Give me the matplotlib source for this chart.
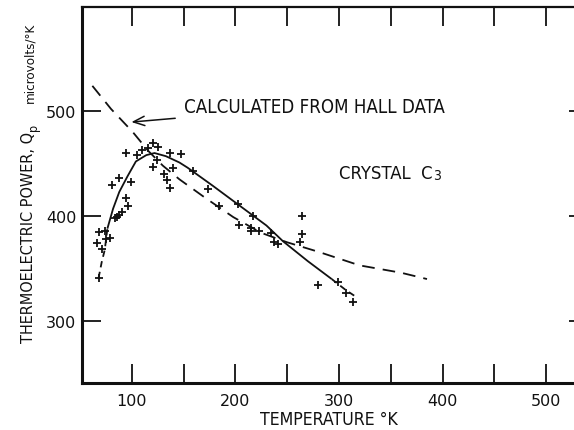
import matplotlib
matplotlib.use("Agg")
import matplotlib.pyplot as plt

# Measured thermoelectric power, crystal C3 (temperature in K, Q in microvolts/K)
meas_T = [68, 66, 71, 68, 74, 75, 79,
          84, 86, 88, 91, 96, 94, 81, 88, 99,
          94, 105, 110, 116, 121, 125, 124, 121, 137, 148, 140, 131, 134, 137,
          159, 174, 184, 203, 217, 204, 215, 215, 223, 234, 237, 241,
          262, 264, 264, 280, 299, 307, 314]
meas_Q = [341, 374, 369, 385, 386, 378, 379,
          398, 399, 401, 404, 410, 417, 430, 436, 432,
          460, 458, 463, 465, 470, 466, 453, 447, 460, 459, 446, 440, 434, 427,
          443, 426, 410, 411, 400, 391, 389, 386, 386, 384, 375, 373,
          375, 383, 400, 334, 337, 327, 318]

# Smooth curve through the measurements (solid), with dashed extrapolations
fit_T = [76.5, 82, 88, 96, 104, 114, 122, 133, 146, 154, 178, 204, 230, 246, 270, 293]
fit_Q = [388, 407, 423, 438, 452, 458, 460, 457, 451, 446, 429, 410, 391, 376, 357, 340]
fit_low_T = [68, 71, 74, 76.5]
fit_low_Q = [341, 356, 368, 388]
fit_high_T = [293, 306, 318]
fit_high_Q = [340, 330, 322]

# Thermoelectric power calculated from Hall data
calc_T = [62, 80, 101, 116, 130, 146, 170, 198, 225, 250, 280, 320, 360, 385]
calc_Q = [524, 502, 480, 462, 448, 435, 418, 399, 384, 375, 366, 353, 346, 340]

x_major = [100, 200, 300, 400, 500]
x_all = [100, 150, 200, 250, 300, 350, 400, 450, 500]
y_major = [300, 400, 500]

label_font = dict(family="DejaVu Sans", stretch="condensed")
ink = "#111111"

W, H = 574, 431
fig = plt.figure(figsize=(W / 100, H / 100), dpi=100)
fig.patch.set_facecolor("white")
fig.patch.set_edgecolor("none")
ax = fig.add_axes([0.14286, 0.10905, 0.8808, 0.8722])
ax.set_xlim(52, 540)
ax.set_ylim(241, 599)

ax.plot(calc_T, calc_Q, color=ink, lw=1.3, dashes=(7, 4.5))
ax.plot(fit_T, fit_Q, color=ink, lw=1.3, solid_capstyle="butt")
ax.plot(fit_low_T, fit_low_Q, color=ink, lw=1.3, dashes=(3.5, 2.5))
ax.plot(fit_high_T, fit_high_Q, color=ink, lw=1.3, dashes=(3.5, 2.5))
ax.plot(meas_T, meas_Q, linestyle="none", marker="+", markersize=6,
        markeredgewidth=1.3, color=ink)

ax.annotate("CALCULATED FROM HALL DATA", xy=(99.7, 489.5), xytext=(150, 504.5),
            fontsize=13.4, va="center", ha="left", color=ink, **label_font,
            arrowprops=dict(arrowstyle="->,head_length=0.6,head_width=0.25",
                            color=ink, lw=1.1, shrinkA=4, shrinkB=0))
crystal = ax.text(300, 436.5, "CRYSTAL  C", fontsize=13.2, va="baseline",
                  ha="left", color=ink, **label_font)

for side in ("left", "bottom"):
    ax.spines[side].set_linewidth(2.2)
ax.spines["top"].set_linewidth(1.6)
ax.spines["right"].set_visible(False)
for sp in ax.spines.values():
    sp.set_color(ink)

ax.set_xticks(x_all)
ax.set_xticklabels([str(v) if v in x_major else "" for v in x_all])
ax.set_yticks(y_major)
ax.set_yticklabels([str(v) for v in y_major])
ax.tick_params(direction="in", length=14, width=1.3, color=ink,
               top=True, right=True, labelsize=11.5, labelcolor=ink)
ax.tick_params(axis="x", pad=7)
ax.tick_params(axis="y", pad=4)

fig.text(0.573, 0.026, "TEMPERATURE °K", fontsize=12.7, ha="center",
         va="center", color=ink, **label_font)

# y-axis title: capitals, subscript p, then smaller lowercase units
base_x = 33 / W
ylab = fig.text(base_x, (H - 343) / H, "THERMOELECTRIC POWER, Q", fontsize=11.6,
                rotation=90, rotation_mode="anchor", ha="left", va="baseline",
                color=ink, **label_font)
fig.text(base_x, (H - 103) / H, "microvolts/°K", fontsize=9.6,
         rotation=90, rotation_mode="anchor", ha="left", va="baseline",
         color=ink, **label_font)

fig.canvas.draw()
r = fig.canvas.get_renderer()
bb = ylab.get_window_extent(r)
fig.text(base_x + 4 / W, (bb.y1 + 1) / H, "p", fontsize=9, rotation=90,
         rotation_mode="anchor", ha="left", va="baseline", color=ink, **label_font)
bc = crystal.get_window_extent(r)
fig.text((bc.x1 + 1) / W, bc.y0 / H, "3", fontsize=10, ha="left",
         va="bottom", color=ink, **label_font)

fig.savefig("out.png", dpi=100, facecolor="white", edgecolor="none")
